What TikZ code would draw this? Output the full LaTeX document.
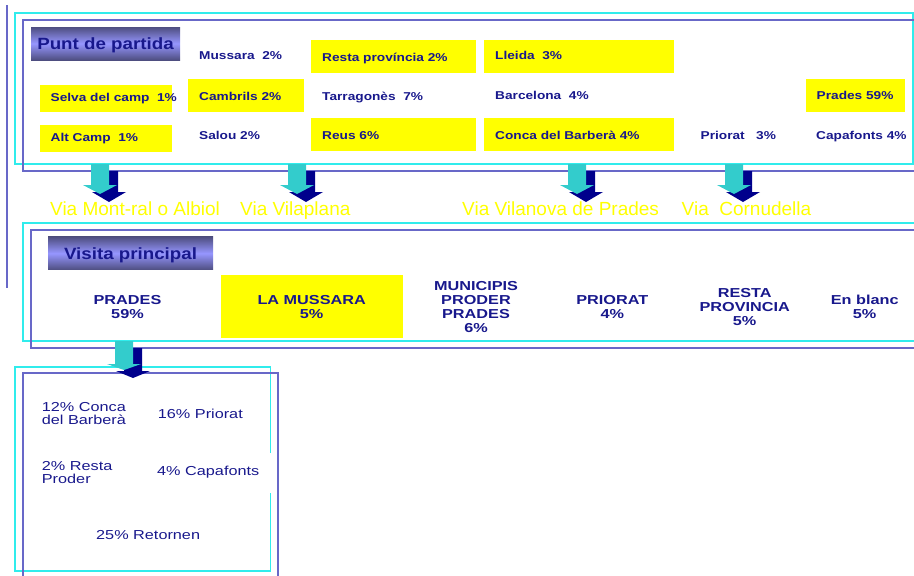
\documentclass[tikz,border=0pt]{standalone}
\usepackage{fontspec}
\setmainfont{Liberation Sans}
\newfontfamily\topfont[FakeStretch=1.2]{Liberation Sans}
\newfontfamily\midfont[FakeStretch=1.25]{Liberation Sans}
\newfontfamily\lowfont[FakeStretch=1.25]{Liberation Sans}
\newfontfamily\headfont[FakeStretch=1.15]{Liberation Sans}
\usepackage{tikz}
\usetikzlibrary{calc}
\definecolor{navytext}{RGB}{24,24,140}
\definecolor{frameblue}{RGB}{104,104,200}
\definecolor{framecyan}{RGB}{48,236,236}
\definecolor{arrowcyan}{RGB}{51,204,204}
\definecolor{arrownavy}{RGB}{0,0,140}
\definecolor{hiyellow}{RGB}{255,255,0}
\definecolor{titledark}{RGB}{78,78,128}
\definecolor{titlelight}{RGB}{150,150,255}
\tikzset{
  cyanline/.style={draw=framecyan, line width=1.2pt},
  blueline/.style={draw=frameblue, line width=1.4pt},
  origin/.style={inner sep=0pt, anchor=base west, text=navytext, font=\fontsize{11.4}{13}\topfont\bfseries},
  via/.style={inner sep=0pt, anchor=base west, text=hiyellow, font=\fontsize{19}{22}\selectfont},
  dest/.style={inner sep=0pt, align=center, text=navytext, font=\fontsize{13}{14}\midfont\bfseries},
  stay/.style={inner sep=0pt, anchor=base west, align=left, text=navytext, font=\fontsize{13}{13}\lowfont},
  heading/.style={inner sep=0pt, text height=11.7pt, text depth=0pt, text=navytext,
    top color=titledark, bottom color=titledark, middle color=titlelight,
    font=\fontsize{16.3}{18}\headfont\bfseries}
}
\newcommand{\hilite}[4]{ \fill[hiyellow] ( #1 , #2 ) rectangle ( #3 , #4 );}
\newcommand{\dropArrow}[4]{ \fill[arrownavy] (#1 + 0 , #2 + 7) -- (#1 + 18 , #2 + 7) -- (#1 + 18 , #3 + 7) -- (#1 + 26 , #3 + 7) -- (#1 + 9 , #4 + 8) -- (#1 - 8 , #3 + 7) -- (#1 , #3 + 7) -- cycle;
 \fill[arrowcyan] (#1 - 9 , #2) -- (#1 + 9 , #2) -- (#1 + 9 , #3) -- (#1 + 17 , #3) -- (#1 , #4) -- (#1 - 17 , #3) -- (#1 - 9 , #3) -- cycle;}

\begin{document}
\begin{tikzpicture}[x=1pt, y=-1pt]
\useasboundingbox (0,0) rectangle (914,576);
% frames
\draw[draw=frameblue, line width=2pt] (7,5) -- (7,288);
\draw[cyanline] (15,13) rectangle (913,164);
\draw[blueline] (930,20) -- (23,20) -- (23,171) -- (930,171);
\draw[cyanline] (930,223) -- (23,223) -- (23,341) -- (930,341);
\draw[blueline] (930,230) -- (31,230) -- (31,348) -- (930,348);
\draw[cyanline] (270.5,453) -- (270.5,367) -- (15,367) -- (15,571) -- (270.5,571) -- (270.5,493);
\draw[blueline] (23,590) -- (23,373) -- (278,373) -- (278,590);
% yellow cells
\hilite{311}{40}{476}{73}
\hilite{484}{40}{674}{73}
\hilite{40}{85}{172}{112}
\hilite{188}{79}{304}{112}
\hilite{806}{79}{905}{112}
\hilite{40}{125}{172}{152}
\hilite{311}{118}{476}{151}
\hilite{484}{118}{674}{151}
\hilite{221}{275}{403}{338}
% arrows
\dropArrow{100}{164}{185}{194}
\dropArrow{297}{164}{185}{194}
\dropArrow{577}{164}{185}{194}
\dropArrow{734}{164}{185}{194}
\dropArrow{124}{341}{364}{370}
% punt de partida
\node[heading, minimum width=149pt, minimum height=33pt] (partida) at (105.5,43.5) {Punt de partida};
\node[origin] (mussara) at (199,59.3) {Mussara\ \ 2\%};
\node[origin] (resta) at (322,61.7) {Resta província 2\%};
\node[origin] (lleida) at (495,59) {Lleida\ \ 3\%};
\node[origin] (selva) at (50.5,101.5) {Selva del camp\ \ 1\%};
\node[origin] (cambrils) at (199,100.5) {Cambrils 2\%};
\node[origin] (tarragones) at (322,100.5) {Tarragonès\ \ 7\%};
\node[origin] (barcelona) at (495,99.5) {Barcelona\ \ 4\%};
\node[origin] (prades) at (816.5,99.5) {Prades 59\%};
\node[origin] (altcamp) at (50.5,141.5) {Alt Camp\ \ 1\%};
\node[origin] (salou) at (199,139.5) {Salou 2\%};
\node[origin] (reus) at (322,139.5) {Reus 6\%};
\node[origin] (conca) at (495,139.5) {Conca del Barberà 4\%};
\node[origin] (priorat) at (700.5,139.5) {Priorat\ \ \ 3\%};
\node[origin] (capafonts) at (816,139) {Capafonts 4\%};
% vies
\node[via] (viaAlbiol) at (50,215) {Via Mont-ral o Albiol};
\node[via] (viaVilaplana) at (240,215) {Via Vilaplana};
\node[via] (viaVilanova) at (462,215) {Via Vilanova de Prades};
\node[via] (viaCornudella) at (681.5,215) {Via\ \ Cornudella};
% visita principal
\node[heading, minimum width=165pt, minimum height=33pt] (visita) at (130.5,253.3) {Visita principal};
\node[dest] (vPrades) at (127.5,307.5) {PRADES\\59\%};
\node[dest] (vMussara) at (311.7,307.3) {LA MUSSARA\\5\%};
\node[dest] (vProder) at (476,307.3) {MUNICIPIS\\PRODER\\PRADES\\6\%};
\node[dest] (vPriorat) at (612.3,307.3) {PRIORAT\\4\%};
\node[dest] (vResta) at (744.7,306.8) {RESTA\\PROVINCIA\\5\%};
\node[dest] (vBlanc) at (864.7,307.3) {En blanc\\5\%};
% des de Prades
\node[stay] (sConca) at (41.7,424.5) {12\% Conca\\del Barberà};
\node[stay] (sPriorat) at (157.7,418) {16\% Priorat};
\node[stay] (sResta) at (41.7,483.3) {2\% Resta\\Proder};
\node[stay] (sCapafonts) at (157,475.5) {4\% Capafonts};
\node[stay] (sRetornen) at (96,539.3) {25\% Retornen};
\end{tikzpicture}
\end{document}
